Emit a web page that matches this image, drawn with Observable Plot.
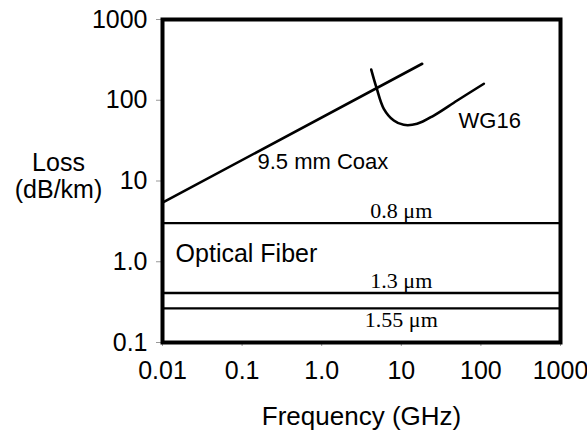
<!DOCTYPE html>
<html>
<head>
<meta charset="utf-8">
<script src="https://cdn.jsdelivr.net/npm/d3@7"></script>
<script src="https://cdn.jsdelivr.net/npm/@observablehq/plot@0.6"></script>
<style>
  html, body { margin: 0; padding: 0; background: #fff; }
  #chart svg { display: block; }
</style>
</head>
<body>
<div id="chart"></div>
<script>
// Axis ticks
const freqTicks = [0.01, 0.1, 1, 10, 100, 1000];
const freqTickLabels = ["0.01", "0.1", "1.0", "10", "100", "1000"];
const lossTicks = [0.1, 1, 10, 100, 1000];
const lossTickLabels = ["0.1", "1.0", "10", "100", "1000"];

// 9.5 mm Coax (straight line on log-log)
const coaxFreq = [0.01, 18.3];
const coaxLoss = [5.4, 283];

// WG16 waveguide
const wg16Freq = [4.19, 4.88, 6.03, 8.05, 10.7, 15.8, 25.6, 50.4, 109];
const wg16Loss = [240, 143, 78.4, 56.1, 49.6, 51.1, 64.7, 99.3, 160];

// Optical fiber
const fiberNames = ["0.8 \u03bcm", "1.3 \u03bcm", "1.55 \u03bcm"];
const fiberLoss = [3.0, 0.41, 0.265];

// Text labels
const labelTexts = ["9.5 mm Coax", "WG16"];
const labelFreq = [0.156, 52.4];
const labelLoss = [13.9, 44.7];
const fiberTitle = "Optical Fiber";
const fiberTitleFreq = 0.0146;
const fiberTitleLoss = 0.98;

const coax = coaxFreq.map((f, i) => ({f, l: coaxLoss[i]}));
const wg16 = wg16Freq.map((f, i) => ({f, l: wg16Loss[i]}));
const fibers = fiberNames.map((name, i) => ({name, l: fiberLoss[i]}));
const labels = labelTexts.map((t, i) => ({t, f: labelFreq[i], l: labelLoss[i]}));

const sans = "'Liberation Sans', Arial, Helvetica, sans-serif";
const serif = "'Liberation Serif', 'Times New Roman', serif";

function lookup(ticks, names) {
  return (d) => {
    const i = ticks.findIndex((t) => Math.abs(Math.log10(t) - Math.log10(d)) < 1e-6);
    return i >= 0 ? names[i] : "";
  };
}

const chart = Plot.plot({
  width: 587,
  height: 430,
  marginLeft: 162,
  marginRight: 27,
  marginTop: 19,
  marginBottom: 88,
  style: {fontFamily: sans, background: "#fff", color: "#000"},
  x: {type: "log", domain: [0.01, 1000]},
  y: {type: "log", domain: [0.1, 1000]},
  marks: [
    Plot.axisX({
      ticks: freqTicks,
      tickFormat: lookup(freqTicks, freqTickLabels),
      tickSize: 4,
      tickPadding: 15,
      fontSize: 25,
      stroke: "#999",
      label: null
    }),
    Plot.axisY({
      ticks: lossTicks,
      tickFormat: lookup(lossTicks, lossTickLabels),
      tickSize: 6,
      tickPadding: 9,
      fontSize: 25,
      stroke: "#999",
      label: null
    }),
    Plot.text(["Frequency (GHz)"], {
      frameAnchor: "bottom", lineAnchor: "bottom", dy: 82,
      fontSize: 26, fill: "#000"
    }),
    Plot.text(["Loss\n(dB/km)"], {
      frameAnchor: "left", textAnchor: "middle", dx: -104, dy: -5,
      lineHeight: 1.08, fontSize: 25, fill: "#000"
    }),
    Plot.ruleY(fibers, {y: "l", stroke: "#000", strokeWidth: 2.3}),
    Plot.line(coax, {x: "f", y: "l", stroke: "#000", strokeWidth: 2.6}),
    Plot.line(wg16, {x: "f", y: "l", stroke: "#000", strokeWidth: 2.6, curve: "catmull-rom"}),
    Plot.text(fibers, {
      x: 10, y: "l", text: "name",
      lineAnchor: "bottom",
      fontFamily: serif, fontSize: 22, fill: "#000",
      filter: (d, i) => i < 2,
      dy: -5
    }),
    Plot.text(fibers, {
      x: 10, y: "l", text: "name",
      lineAnchor: "top",
      fontFamily: serif, fontSize: 22, fill: "#000",
      filter: (d, i) => i === 2,
      dy: 3
    }),
    Plot.text(labels, {
      x: "f", y: "l", text: "t",
      textAnchor: "start", lineAnchor: "bottom",
      fontSize: 22, fill: "#000"
    }),
    Plot.text([fiberTitle], {
      x: fiberTitleFreq, y: fiberTitleLoss,
      textAnchor: "start", lineAnchor: "bottom",
      fontSize: 25, fill: "#000"
    }),
    Plot.frame({stroke: "#000", strokeWidth: 4})
  ]
});
document.getElementById("chart").appendChild(chart);
</script>
</body>
</html>
